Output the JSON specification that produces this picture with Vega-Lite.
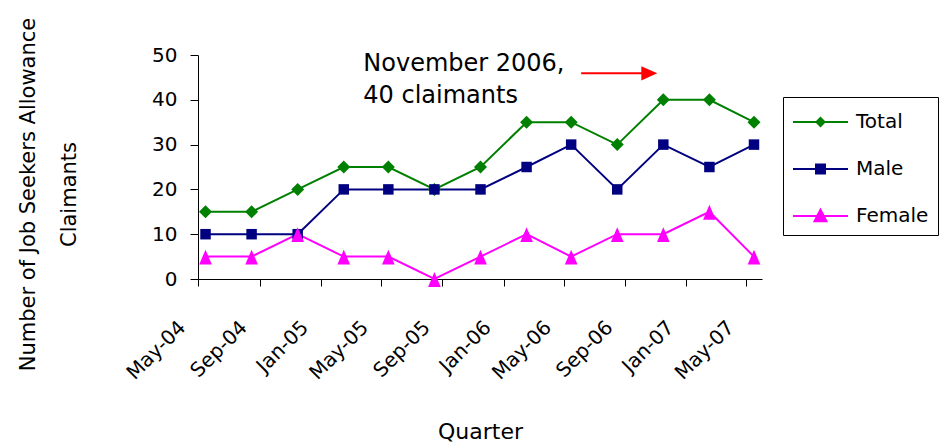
{
  "$schema": "https://vega.github.io/schema/vega-lite/v6.json",
  "autosize": {"type": "none"},
  "padding": {"left": 198, "top": 55, "right": 182, "bottom": 165},
  "width": 564,
  "height": 224,
  "background": "white",
  "config": {"font": "DejaVu Sans", "view": {"stroke": null}},
  "data": {"values": [
    {"date": "2004-05-16T00:00", "series": "Total", "value": 15},
    {"date": "2004-08-16T00:00", "series": "Total", "value": 15},
    {"date": "2004-11-16T00:00", "series": "Total", "value": 20},
    {"date": "2005-02-16T00:00", "series": "Total", "value": 25},
    {"date": "2005-05-16T00:00", "series": "Total", "value": 25},
    {"date": "2005-08-16T00:00", "series": "Total", "value": 20},
    {"date": "2005-11-16T00:00", "series": "Total", "value": 25},
    {"date": "2006-02-16T00:00", "series": "Total", "value": 35},
    {"date": "2006-05-16T00:00", "series": "Total", "value": 35},
    {"date": "2006-08-16T00:00", "series": "Total", "value": 30},
    {"date": "2006-11-16T00:00", "series": "Total", "value": 40},
    {"date": "2007-02-16T00:00", "series": "Total", "value": 40},
    {"date": "2007-05-16T00:00", "series": "Total", "value": 35},
    {"date": "2004-05-16T00:00", "series": "Male", "value": 10},
    {"date": "2004-08-16T00:00", "series": "Male", "value": 10},
    {"date": "2004-11-16T00:00", "series": "Male", "value": 10},
    {"date": "2005-02-16T00:00", "series": "Male", "value": 20},
    {"date": "2005-05-16T00:00", "series": "Male", "value": 20},
    {"date": "2005-08-16T00:00", "series": "Male", "value": 20},
    {"date": "2005-11-16T00:00", "series": "Male", "value": 20},
    {"date": "2006-02-16T00:00", "series": "Male", "value": 25},
    {"date": "2006-05-16T00:00", "series": "Male", "value": 30},
    {"date": "2006-08-16T00:00", "series": "Male", "value": 20},
    {"date": "2006-11-16T00:00", "series": "Male", "value": 30},
    {"date": "2007-02-16T00:00", "series": "Male", "value": 25},
    {"date": "2007-05-16T00:00", "series": "Male", "value": 30},
    {"date": "2004-05-16T00:00", "series": "Female", "value": 5},
    {"date": "2004-08-16T00:00", "series": "Female", "value": 5},
    {"date": "2004-11-16T00:00", "series": "Female", "value": 10},
    {"date": "2005-02-16T00:00", "series": "Female", "value": 5},
    {"date": "2005-05-16T00:00", "series": "Female", "value": 5},
    {"date": "2005-08-16T00:00", "series": "Female", "value": 0},
    {"date": "2005-11-16T00:00", "series": "Female", "value": 5},
    {"date": "2006-02-16T00:00", "series": "Female", "value": 10},
    {"date": "2006-05-16T00:00", "series": "Female", "value": 5},
    {"date": "2006-08-16T00:00", "series": "Female", "value": 10},
    {"date": "2006-11-16T00:00", "series": "Female", "value": 10},
    {"date": "2007-02-16T00:00", "series": "Female", "value": 15},
    {"date": "2007-05-16T00:00", "series": "Female", "value": 5}
  ]},
  "encoding": {
    "x": {
      "field": "date", "type": "temporal",
      "scale": {"domain": ["2004-05-01T00:00", "2007-06-01T00:00"], "nice": false},
      "axis": {
        "title": "Quarter", "titleFontSize": 22, "titleFontWeight": "normal", "titleColor": "black",
        "titleX": 282, "titleY": 159, "titleBaseline": "alphabetic", "titleAlign": "center",
        "tickCount": {"interval": "month", "step": 4},
        "format": "%b-%y",
        "labelAngle": -45, "labelAlign": "right", "labelBaseline": "middle",
        "labelPadding": 38, "labelOffset": -16,
        "labelFontSize": 20, "labelColor": "black", "labelOverlap": false, "labelFlush": false,
        "tickSize": 7, "tickColor": "black", "domainColor": "black", "grid": false
      }
    },
    "y": {
      "field": "value", "type": "quantitative",
      "scale": {"domain": [0, 50], "nice": false},
      "axis": {
        "title": ["Number of Job Seekers Allowance", "Claimants"],
        "titleFontSize": 21, "titleFontWeight": "normal", "titleColor": "black",
        "titleAngle": -90, "titleX": -181, "titleY": 139, "titleBaseline": "top", "titleAlign": "center",
        "titleLineHeight": 41,
        "values": [0, 10, 20, 30, 40, 50],
        "labelFontSize": 20, "labelColor": "black", "labelPadding": 13,
        "tickSize": 8, "tickColor": "black", "domainColor": "black", "grid": false
      }
    }
  },
  "layer": [
    {
      "mark": {"type": "line", "strokeWidth": 2},
      "encoding": {
        "color": {
          "field": "series", "type": "nominal",
          "scale": {"domain": ["Total", "Male", "Female"], "range": ["#008000", "#000080", "#FF00FF"]},
          "legend": {
            "title": null, "orient": "none", "legendX": 585, "legendY": 42,
            "strokeColor": "black", "padding": 9, "rowPadding": 21,
            "symbolType": "M-1,0H2.667",
            "symbolSize": 900, "symbolStrokeWidth": 2, "labelOffset": 32,
            "labelFontSize": 20, "labelColor": "black",
            "encode": {"symbols": {"update": {
              "shape": {"signal": "datum.value === 'Total' ? 'M-1,0H2.667M0.833,-0.27L1.103,0L0.833,0.27L0.563,0Z' : datum.value === 'Male' ? 'M-1,0H2.667M0.533,-0.3H1.133V0.3H0.533Z' : 'M-1,0H2.667M0.833,-0.42L1.233,0.35L0.433,0.35Z'"},
              "fill": {"scale": "color", "field": "value"},
              "stroke": {"scale": "color", "field": "value"},
              "size": {"value": 900},
              "opacity": {"value": 1},
              "fillOpacity": {"value": 1}
            }}}
          }
        }
      }
    },
    {
      "transform": [{"filter": "datum.series === 'Total'"}],
      "mark": {"type": "point", "shape": "diamond", "filled": true, "opacity": 1, "size": 169, "color": "#008000"},
      "encoding": {}
    },
    {
      "transform": [{"filter": "datum.series === 'Male'"}],
      "mark": {"type": "point", "shape": "square", "filled": true, "opacity": 1, "size": 110, "color": "#000080"},
      "encoding": {}
    },
    {
      "transform": [{"filter": "datum.series === 'Female'"}],
      "mark": {"type": "point", "shape": "M0,-1.1L1,1.25L-1,1.25Z", "filled": true, "opacity": 1, "size": 160, "color": "#FF00FF"},
      "encoding": {}
    },
    {
      "data": {"values": [{"date": "2005-03-27T00:00", "value": 46.5, "label": "November 2006,\n40 claimants"}]},
      "mark": {"type": "text", "align": "left", "baseline": "alphabetic", "fontSize": 24, "lineHeight": 32, "lineBreak": "\n", "color": "black"},
      "encoding": {"text": {"field": "label", "type": "nominal"}}
    },
    {
      "data": {"values": [{"date": "2006-06-05T00:00", "date2": "2006-10-11T00:00", "value": 45.9}]},
      "mark": {"type": "rule", "color": "#FF0000", "strokeWidth": 2},
      "encoding": {"x2": {"field": "date2"}}
    },
    {
      "data": {"values": [{"date": "2006-10-19T00:00", "value": 45.9}]},
      "mark": {"type": "point", "shape": "M1,0L-1,-0.9L-1,0.9Z", "filled": true, "color": "#FF0000", "opacity": 1, "size": 256},
      "encoding": {}
    }
  ]
}
